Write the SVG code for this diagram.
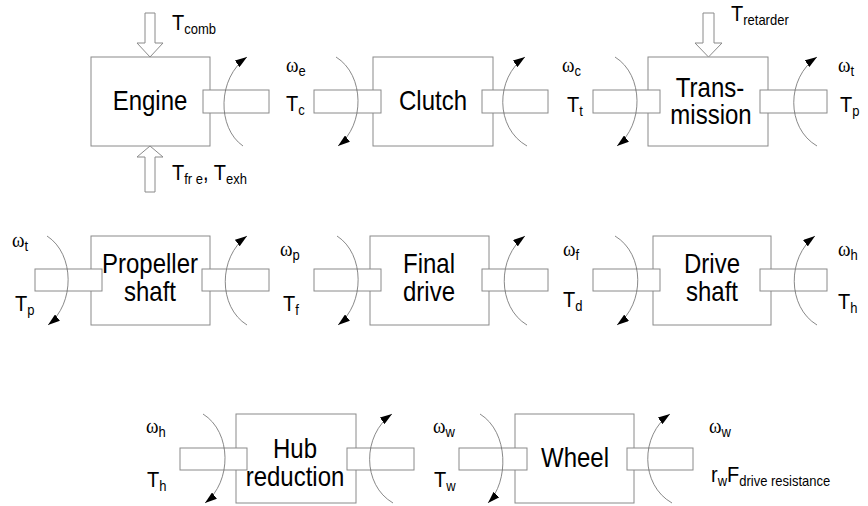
<svg xmlns="http://www.w3.org/2000/svg" width="868" height="506" viewBox="0 0 868 506">
<style>
.box{fill:#fff;stroke:#8a8a8a;stroke-width:1}
.sh{fill:#fff;stroke:#8a8a8a;stroke-width:1}
.lbl{font-family:"Liberation Sans",Arial,sans-serif;font-size:24px;fill:#000;text-anchor:middle}
.t{font-family:"Liberation Sans",Arial,sans-serif;font-size:20px;fill:#000}
.s{font-size:13px}
.w{font-family:"Liberation Serif","Times New Roman",serif;font-size:19px;fill:#000}
.ws{font-family:"Liberation Sans",Arial,sans-serif;font-size:13px}
.arc{fill:none;stroke:#6a6a6a;stroke-width:0.8;marker-end:url(#ah)}
.blk{fill:#fff;stroke:#8a8a8a;stroke-width:1}
</style>
<defs>
<marker id="ah" markerWidth="13" markerHeight="8" refX="12" refY="4" orient="auto" markerUnits="userSpaceOnUse">
<path d="M0,0 L12,4 L0,8 z" fill="#000"/>
</marker>
</defs>
<rect width="868" height="506" fill="#fff"/>

<g id="engine">
<rect class="box" x="91" y="57" width="119" height="89"/>
<rect class="sh" x="203" y="90" width="66" height="23"/>
<text class="lbl" transform="translate(150,110) scale(1,1.15)">Engine</text>
</g>
<g id="clutch">
<rect class="box" x="373" y="57" width="120" height="89"/>
<rect class="sh" x="314" y="90" width="67" height="23"/>
<rect class="sh" x="482" y="90" width="66" height="23"/>
<text class="lbl" transform="translate(433,110) scale(1,1.15)">Clutch</text>
</g>
<g id="transmission">
<rect class="box" x="648" y="57" width="120" height="89"/>
<rect class="sh" x="593" y="90" width="67" height="23"/>
<rect class="sh" x="760" y="90" width="67" height="23"/>
<text class="lbl" transform="translate(710,97) scale(1,1.15)">Trans-</text>
<text class="lbl" transform="translate(711,124) scale(1,1.15)">mission</text>
</g>

<g id="propeller-shaft">
<rect class="box" x="91" y="236" width="119" height="89"/>
<rect class="sh" x="35" y="269" width="67" height="22"/>
<rect class="sh" x="202" y="269" width="67" height="22"/>
<text class="lbl" transform="translate(150,273) scale(1,1.15)">Propeller</text>
<text class="lbl" transform="translate(150,301) scale(1,1.15)">shaft</text>
</g>
<g id="final-drive">
<rect class="box" x="370" y="236" width="119" height="89"/>
<rect class="sh" x="314" y="269" width="67" height="22"/>
<rect class="sh" x="482" y="269" width="66" height="22"/>
<text class="lbl" transform="translate(429,273) scale(1,1.15)">Final</text>
<text class="lbl" transform="translate(429,301) scale(1,1.15)">drive</text>
</g>
<g id="drive-shaft">
<rect class="box" x="653" y="236" width="118" height="89"/>
<rect class="sh" x="593" y="269" width="67" height="22"/>
<rect class="sh" x="760" y="269" width="67" height="22"/>
<text class="lbl" transform="translate(712,273) scale(1,1.15)">Drive</text>
<text class="lbl" transform="translate(712,301) scale(1,1.15)">shaft</text>
</g>

<g id="hub-reduction">
<rect class="box" x="236" y="414" width="120" height="89"/>
<rect class="sh" x="180" y="448" width="67" height="22"/>
<rect class="sh" x="347" y="448" width="67" height="22"/>
<text class="lbl" transform="translate(295,458) scale(1,1.15)">Hub</text>
<text class="lbl" transform="translate(295,486) scale(1,1.15)">reduction</text>
</g>
<g id="wheel">
<rect class="box" x="515" y="414" width="119" height="89"/>
<rect class="sh" x="459" y="448" width="68" height="22"/>
<rect class="sh" x="627" y="448" width="66" height="22"/>
<text class="lbl" transform="translate(575,467) scale(1,1.15)">Wheel</text>
</g>

<g id="connectors">
<polygon class="blk" points="145,13 155,13 155,43 163,43 150,57 137,43 145,43"/>
<polygon class="blk" points="150,146 163,157 155,157 155,192 145,192 145,157 137,157"/>
<polygon class="blk" points="703,13 714,13 714,43 722,43 708.5,57 695,43 703,43"/>

<path class="arc" d="M243,146 C217,128 217,78 247,57"/>
<path class="arc" d="M336,57 C365,75 365,125 338,146"/>
<path class="arc" d="M527,146 C495,128 495,78 525,57"/>
<path class="arc" d="M615,57 C644,75 644,125 617,146"/>
<path class="arc" d="M817,146 C786,128 786,78 817,57"/>

<path class="arc" d="M47,236 C75,254 75,304 48,325"/>
<path class="arc" d="M247,325 C218,307 218,257 247,236"/>
<path class="arc" d="M337,236 C365,254 365,304 338,325"/>
<path class="arc" d="M527,325 C497,307 497,257 525,236"/>
<path class="arc" d="M615,236 C645,254 645,304 617,325"/>
<path class="arc" d="M817,325 C787,307 787,257 815,236"/>

<path class="arc" d="M203,414 C232,432 232,482 205,503"/>
<path class="arc" d="M393,503 C362,485 362,435 392,414"/>
<path class="arc" d="M480,414 C509,432 509,482 488,503"/>
<path class="arc" d="M672,503 C640,485 640,435 670,414"/>
</g>

<g id="labels">
<text class="t" transform="translate(172,30) scale(1,1.1)">T<tspan class="s" dy="4">comb</tspan></text>
<text class="t" transform="translate(172,180) scale(1,1.1)">T<tspan class="s" dy="4">fr e</tspan><tspan dy="-4">, T</tspan><tspan class="s" dy="4">exh</tspan></text>
<text class="t" transform="translate(731,21) scale(1,1.1)">T<tspan class="s" dy="4">retarder</tspan></text>

<text class="w" transform="translate(286,72) scale(1,1.1)">ω<tspan class="ws" dy="4">e</tspan></text>
<text class="t" transform="translate(286,111) scale(1,1.1)">T<tspan class="s" dy="4">c</tspan></text>
<text class="w" transform="translate(562,72) scale(1,1.1)">ω<tspan class="ws" dy="4">c</tspan></text>
<text class="t" transform="translate(567,112) scale(1,1.1)">T<tspan class="s" dy="4">t</tspan></text>
<text class="w" transform="translate(838,72) scale(1,1.1)">ω<tspan class="ws" dy="4">t</tspan></text>
<text class="t" transform="translate(840,112) scale(1,1.1)">T<tspan class="s" dy="4">p</tspan></text>

<text class="w" transform="translate(12,247) scale(1,1.1)">ω<tspan class="ws" dy="4">t</tspan></text>
<text class="t" transform="translate(15,311) scale(1,1.1)">T<tspan class="s" dy="4">p</tspan></text>
<text class="w" transform="translate(280,256) scale(1,1.1)">ω<tspan class="ws" dy="4">p</tspan></text>
<text class="t" transform="translate(283,311) scale(1,1.1)">T<tspan class="s" dy="4">f</tspan></text>
<text class="w" transform="translate(563,256) scale(1,1.1)">ω<tspan class="ws" dy="4">f</tspan></text>
<text class="t" transform="translate(563,307) scale(1,1.1)">T<tspan class="s" dy="4">d</tspan></text>
<text class="w" transform="translate(838,256) scale(1,1.1)">ω<tspan class="ws" dy="4">h</tspan></text>
<text class="t" transform="translate(838,309) scale(1,1.1)">T<tspan class="s" dy="4">h</tspan></text>

<text class="w" transform="translate(146,433) scale(1,1.1)">ω<tspan class="ws" dy="4">h</tspan></text>
<text class="t" transform="translate(147,487) scale(1,1.1)">T<tspan class="s" dy="4">h</tspan></text>
<text class="w" transform="translate(433,433) scale(1,1.1)">ω<tspan class="ws" dy="4">w</tspan></text>
<text class="t" transform="translate(434,487) scale(1,1.1)">T<tspan class="s" dy="4">w</tspan></text>
<text class="w" transform="translate(709,433) scale(1,1.1)">ω<tspan class="ws" dy="4">w</tspan></text>
<text class="t" transform="translate(711,482) scale(1,1.1)">r<tspan class="s" dy="4">w</tspan><tspan dy="-4">F</tspan><tspan class="s" dy="4">drive resistance</tspan></text>
</g>
</svg>
